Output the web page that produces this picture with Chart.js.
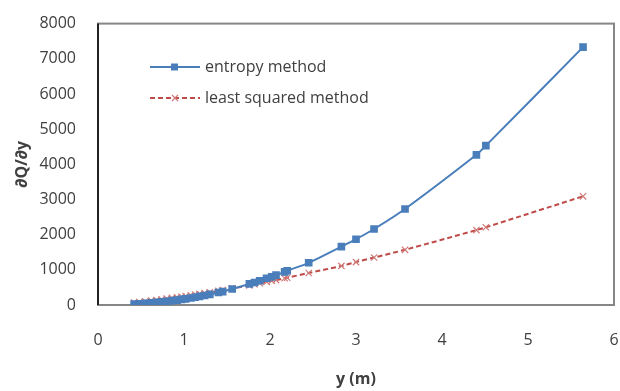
<!DOCTYPE html>
<html>
<head>
<meta charset="utf-8">
<script src="https://cdn.jsdelivr.net/npm/chart.js@4"></script>
<style>
  html, body { margin: 0; padding: 0; background: #fff; }
  #wrap { width: 620px; height: 391px; }
</style>
</head>
<body>
<div id="wrap"><canvas id="chart" width="620" height="391"></canvas></div>
<script>
// depth values (m), shared by both series
const depths = [0.42, 0.48, 0.55, 0.62, 0.68, 0.74, 0.80, 0.86, 0.92, 0.97, 1.02, 1.08, 1.13, 1.18, 1.24, 1.30, 1.40, 1.45, 1.56,
  1.76, 1.82, 1.88, 1.96, 2.02, 2.07, 2.17, 2.20, 2.45, 2.83, 3.00, 3.21, 3.57, 4.40, 4.51, 5.64]
const entropyValues = [25, 35, 45, 60, 75, 90, 105, 125, 140, 160, 175, 200, 220, 245, 270, 300, 355, 380, 455,
  600, 640, 690, 760, 800, 850, 940, 975, 1200, 1660, 1870, 2160, 2730, 4270, 4530, 7330]
const leastSquaredValues = [70, 85, 105, 125, 140, 160, 180, 200, 220, 235, 255, 275, 295, 315, 340, 360, 400, 425, 470,
  560, 590, 620, 660, 690, 710, 760, 775, 910, 1110, 1220, 1350, 1570, 2130, 2210, 3090]
const seriesNames = ['entropy method', 'least squared method']
const xTicks = [0, 1, 2, 3, 4, 5, 6]
const yTicks = [0, 1000, 2000, 3000, 4000, 5000, 6000, 7000, 8000]

const toPoints = (vals) => depths.map((d, i) => ({ x: d, y: vals[i] }))

const fontFamily = "'Open Sans', 'Liberation Sans', sans-serif"

// frame around the plot area plus the in-plot legend
const framePlugin = {
  id: 'frame',
  beforeDatasetsDraw(chart) {
    const { ctx, chartArea: a } = chart
    ctx.save()
    ctx.strokeStyle = '#868686'
    ctx.lineWidth = 2
    ctx.strokeRect(a.left, a.top, a.right - a.left, a.bottom - a.top)
    ctx.strokeStyle = '#000'
    ctx.lineWidth = 1.5
    ctx.beginPath()
    ctx.moveTo(a.left, a.top)
    ctx.lineTo(a.left, a.bottom)
    ctx.stroke()
    ctx.restore()
  },
  afterDraw(chart) {
    const { ctx } = chart
    ctx.save()
    chart.data.datasets.forEach((ds, i) => {
      const y = 67 + i * 31
      ctx.strokeStyle = ds.borderColor
      ctx.lineWidth = ds.borderWidth
      ctx.setLineDash(ds.borderDash || [])
      ctx.beginPath()
      ctx.moveTo(150, y)
      ctx.lineTo(200, y)
      ctx.stroke()
      ctx.setLineDash([])
      ctx.fillStyle = ds.pointBackgroundColor
      ctx.strokeStyle = ds.pointBorderColor
      if (ds.pointStyle === 'rect') {
        ctx.fillRect(171, y - 3.5, 7, 7)
      } else {
        ctx.lineWidth = 1.2
        ctx.beginPath()
        ctx.moveTo(172, y - 3); ctx.lineTo(178, y + 3)
        ctx.moveTo(178, y - 3); ctx.lineTo(172, y + 3)
        ctx.stroke()
      }
      ctx.fillStyle = '#404040'
      ctx.font = '16px ' + fontFamily
      ctx.textBaseline = 'middle'
      ctx.fillText(ds.label, 205, y)
    })
    ctx.restore()
  }
}

new Chart(document.getElementById('chart'), {
  type: 'scatter',
  data: {
    datasets: [
      {
        label: seriesNames[0],
        data: toPoints(entropyValues),
        showLine: true,
        borderColor: '#4A7EBB',
        borderWidth: 2,
        tension: 0.3,
        pointStyle: 'rect',
        pointRadius: 4,
        pointBackgroundColor: '#4A7EBB',
        pointBorderColor: '#4A7EBB'
      },
      {
        label: seriesNames[1],
        data: toPoints(leastSquaredValues),
        showLine: true,
        borderColor: '#BE4B48',
        borderWidth: 2,
        borderDash: [5, 3],
        tension: 0.3,
        pointStyle: 'crossRot',
        pointRadius: 4.5,
        pointBorderWidth: 1.2,
        pointBackgroundColor: '#BE4B48',
        pointBorderColor: '#D07A78'
      }
    ]
  },
  options: {
    responsive: false,
    animation: false,
    layout: { padding: { top: 15, right: 0, left: 0, bottom: 0 } },
    plugins: {
      legend: { display: false },
      tooltip: { enabled: false }
    },
    scales: {
      x: {
        type: 'linear',
        min: 0,
        max: 6,
        afterBuildTicks: (scale) => { scale.ticks = xTicks.map(v => ({ value: v })) },
        afterFit: (scale) => { scale.height = 86 },
        // invisible tick marks, only used to push the labels down
        grid: { display: true, drawOnChartArea: false, color: 'rgba(0,0,0,0)', tickLength: 26 },
        border: { display: false },
        ticks: { color: '#404040', font: { family: fontFamily, size: 16 }, padding: 0 },
        title: {
          display: true,
          text: 'y (m)',
          color: '#404040',
          font: { family: fontFamily, size: 16, weight: 'bold' },
          padding: { top: 10, bottom: 2 }
        }
      },
      y: {
        min: 0,
        max: 8000,
        afterBuildTicks: (scale) => { scale.ticks = yTicks.map(v => ({ value: v })) },
        afterFit: (scale) => { scale.width = 98 },
        grid: { display: false },
        border: { display: false },
        ticks: {
          color: '#404040',
          font: { family: fontFamily, size: 16 },
          padding: 14,
          callback: (v) => String(v)
        },
        title: {
          display: true,
          text: '∂Q/∂y',
          color: '#404040',
          font: { family: fontFamily, size: 16, weight: 'bold' },
          padding: { top: 13, bottom: 4 }
        }
      }
    }
  },
  plugins: [framePlugin]
})
</script>
</body>
</html>
